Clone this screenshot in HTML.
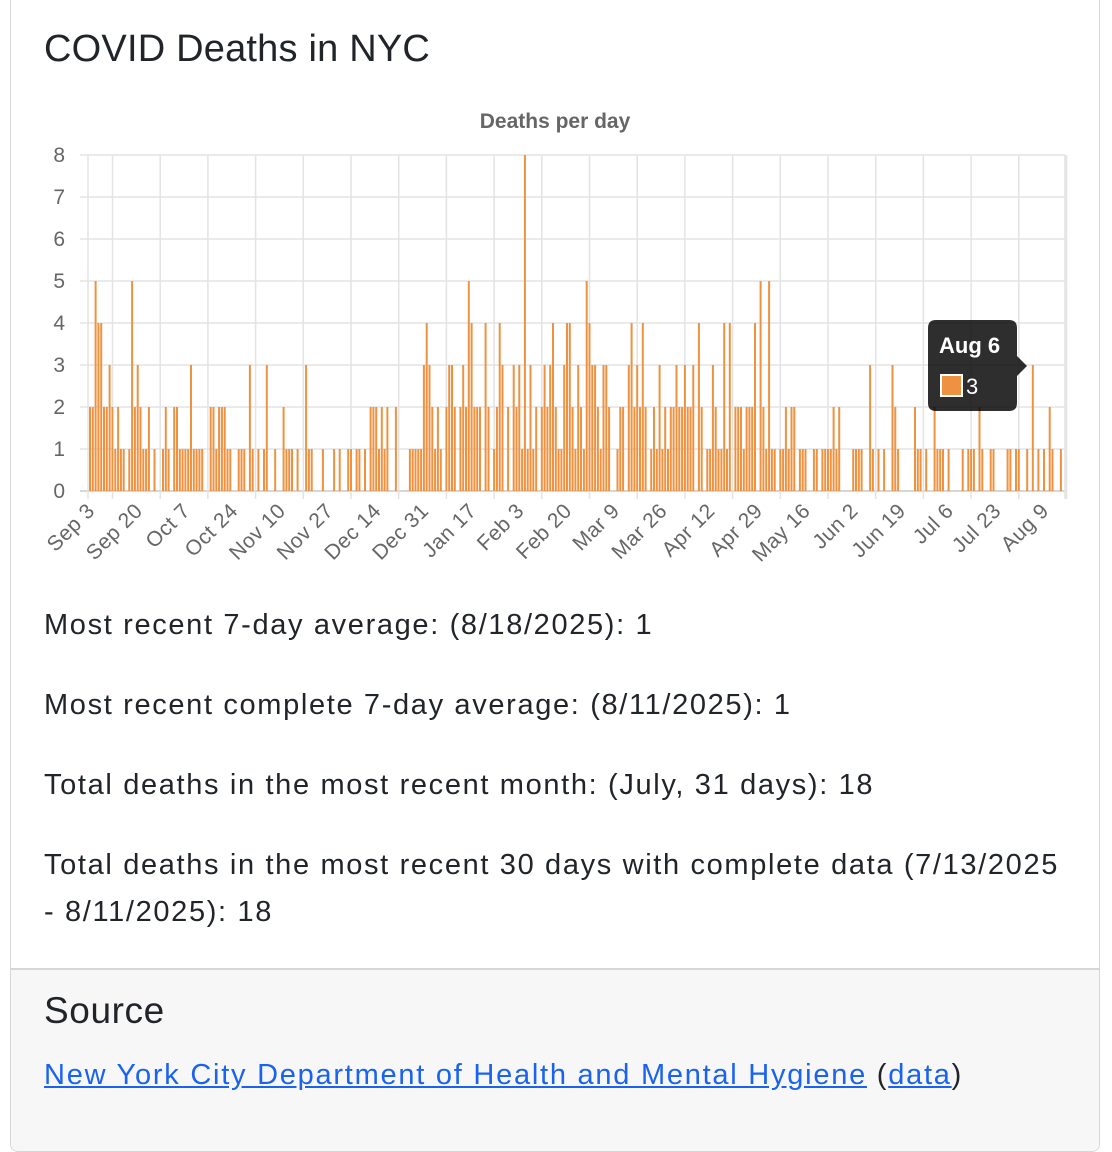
<!DOCTYPE html>
<html><head><meta charset="utf-8">
<style>
html,body{margin:0;padding:0;background:#fff;width:1112px;height:1144px;overflow:hidden;font-family:"Liberation Sans",Arial,sans-serif;color:#212529}
.card{position:absolute;left:10px;top:-10px;width:1088px;height:1160px;border:1px solid #d6d6d6;border-radius:8px;overflow:hidden}
h1{position:absolute;left:33px;top:37px;margin:0;font-size:38px;font-weight:400;letter-spacing:0.2px}
p{position:absolute;left:33px;margin:0;font-size:29px;line-height:47px;width:1025px;letter-spacing:1.65px}
.foot{position:absolute;left:0;top:977px;width:1088px;height:200px;background:#f7f7f7;border-top:2px solid #d6d6d6}
.foot h2{position:absolute;left:33px;top:20px;margin:0;font-size:37px;font-weight:500;letter-spacing:0.6px}
.foot .l{position:absolute;left:33px;top:89px;font-size:29px;letter-spacing:1.75px}
a{color:#1a62f0;text-decoration:underline}
svg{position:absolute;left:0;top:0}
</style></head><body>
<div class="card">
<h1>COVID Deaths in NYC</h1>
<p style="top:611px">Most recent 7-day average: (8/18/2025): 1</p>
<p style="top:691px">Most recent complete 7-day average: (8/11/2025): 1</p>
<p style="top:771px">Total deaths in the most recent month: (July, 31 days): 18</p>
<p style="top:851px">Total deaths in the most recent 30 days with complete data (7/13/2025<br>- 8/11/2025): 18</p>
<div class="foot"><h2>Source</h2><div class="l"><a>New York City Department of Health and Mental Hygiene</a> (<a>data</a>)</div></div>
</div>
<svg id="c" width="1112" height="600" xmlns="http://www.w3.org/2000/svg" font-family="Liberation Sans, Arial, sans-serif"></svg>
<script>
var d={0:2,1:2,2:5,3:4,4:4,5:2,6:2,7:3,8:2,9:1,10:2,11:1,12:1,14:1,15:5,16:2,17:3,18:2,19:1,20:1,21:2,23:1,26:1,27:2,28:1,30:2,31:2,32:1,33:1,34:1,35:1,36:3,37:1,38:1,39:1,40:1,43:2,44:2,45:1,46:2,47:2,48:2,49:1,50:1,53:1,54:1,55:1,57:3,58:1,60:1,62:1,63:3,66:1,69:2,70:1,71:1,72:1,74:1,77:3,78:1,79:1,83:1,87:1,89:1,92:1,93:1,95:1,96:1,98:1,100:2,101:2,102:2,103:1,104:2,105:1,106:2,109:2,114:1,115:1,116:1,117:1,118:1,119:3,120:4,121:3,122:2,123:1,124:2,125:1,127:2,128:3,129:3,130:2,132:2,133:3,134:2,135:5,136:4,137:2,138:2,139:2,141:4,142:2,144:1,145:2,146:4,147:3,149:2,151:3,152:2,153:3,154:1,155:8,156:1,157:3,158:1,159:2,161:2,162:3,163:2,164:3,165:4,166:2,167:1,168:1,169:3,170:4,171:4,172:2,173:1,174:3,175:2,176:1,177:5,178:4,179:3,180:3,181:2,182:1,183:3,184:3,185:2,188:1,189:2,190:2,192:3,193:4,194:2,195:3,196:2,197:4,198:2,200:1,201:2,202:1,203:3,204:1,205:2,206:1,207:2,208:2,209:3,210:2,211:2,212:3,213:2,214:2,215:3,217:4,218:2,220:1,221:1,222:3,223:2,224:1,225:1,226:4,227:1,228:4,230:2,231:2,232:2,233:1,234:2,235:2,236:2,237:4,239:5,240:2,241:1,242:5,243:1,244:1,246:1,247:1,248:2,249:1,250:2,251:2,253:1,254:1,255:1,258:1,259:1,261:1,262:1,263:1,264:1,265:2,266:1,267:2,272:1,273:1,274:1,275:1,278:3,279:1,281:1,283:1,286:3,287:2,288:1,294:2,295:1,296:1,298:1,301:2,302:1,303:1,304:1,306:1,311:1,313:1,314:1,315:1,317:2,318:1,321:1,322:1,327:1,328:1,330:1,331:1,334:1,336:3,338:1,340:1,342:2,343:1,346:1};
var s='',x0=88,x1=1065,y0=491,u=42,sw=2.806;
for(var k=0;k<=8;k++){var y=y0-k*u;s+='<line x1="80" x2="'+x1+'" y1="'+y+'" y2="'+y+'" stroke="'+(k?'#e3e3e3':'#c8c8c8')+'" stroke-width="1.5"/>';s+='<text x="65" y="'+(y+7)+'" font-size="21" fill="#666" text-anchor="end">'+k+'</text>';}
var g=[x0];for(var k=0;k<21;k++)g.push(x0+24.5+k*47.7);g.push(x1);
g.forEach(function(x){s+='<line x1="'+x+'" x2="'+x+'" y1="155" y2="499" stroke="#e3e3e3" stroke-width="1.5"/>';});
for(var i in d){var x=x0+1+i*sw,h=d[i]*u;s+='<rect x="'+x.toFixed(1)+'" y="'+(y0-h)+'" width="2" height="'+h+'" fill="#ee9241"/>';}
var L=["Sep 3","Sep 20","Oct 7","Oct 24","Nov 10","Nov 27","Dec 14","Dec 31","Jan 17","Feb 3","Feb 20","Mar 9","Mar 26","Apr 12","Apr 29","May 16","Jun 2","Jun 19","Jul 6","Jul 23","Aug 9"];
L.forEach(function(t,k){var x=x0+8+k*47.7;s+='<text transform="translate('+x+',512) rotate(-45)" font-size="21" fill="#666" text-anchor="end" letter-spacing="0.5">'+t+'</text>';});
s+='<text x="555" y="128" font-size="21" font-weight="bold" fill="#666" text-anchor="middle">Deaths per day</text>';
s+='<path d="M936 320 H1009 Q1017 320 1017 328 V356 L1027 366 L1017 376 V403 Q1017 411 1009 411 H936 Q928 411 928 403 V328 Q928 320 936 320 Z" fill="rgba(0,0,0,0.82)"/>';
s+='<text x="939" y="353" font-size="22" font-weight="bold" fill="#fff">Aug 6</text>';
s+='<rect x="941" y="375" width="21" height="21" fill="#ee9241" stroke="#fff" stroke-width="2"/>';
s+='<text x="966" y="394" font-size="22" fill="#fff">3</text>';
document.getElementById('c').innerHTML=s;
</script>
</body></html>
